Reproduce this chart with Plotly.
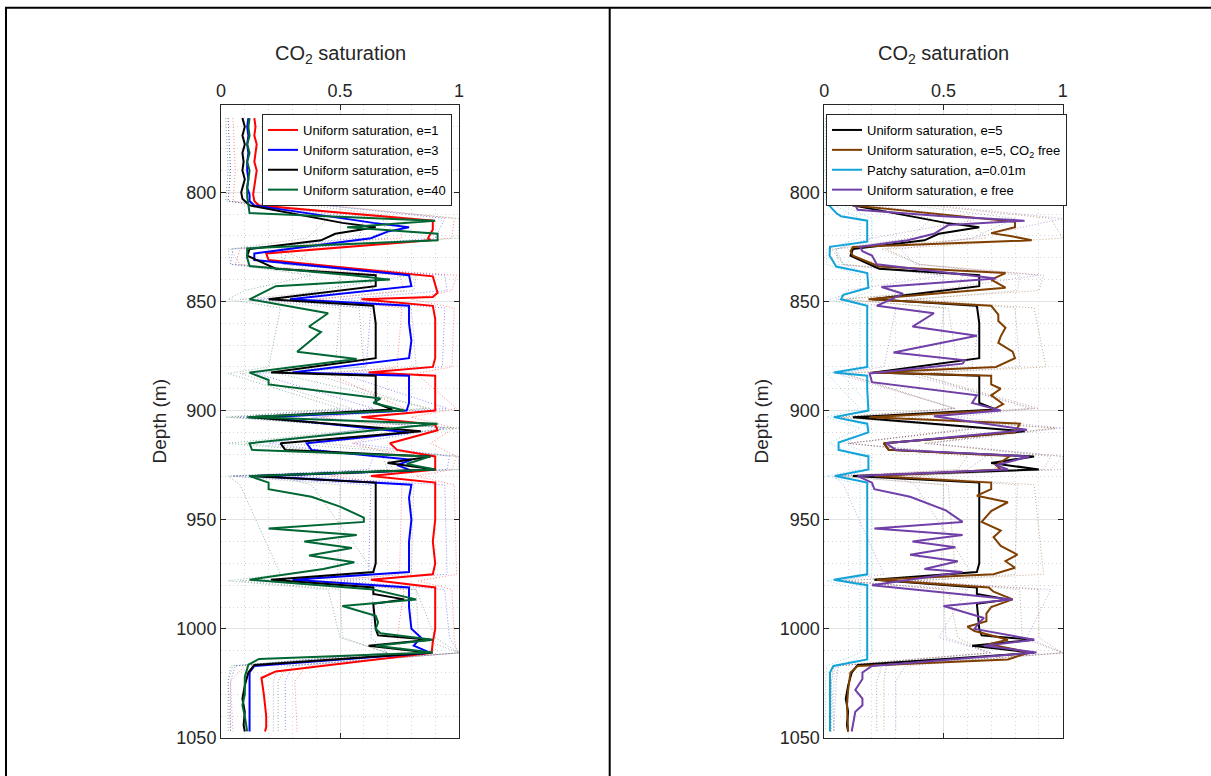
import plotly.graph_objects as go

# ---------------- saturation logs (depth in m, CO2 saturation) ----------------
# Uniform saturation, e=1
depth_e1 = [766, 770, 774, 778, 782, 786, 790, 794, 798, 801, 804, 806, 813, 817, 821, 822,
            828, 831, 838.5, 842, 846, 848, 849, 852, 858, 864, 870, 876, 880, 882.5, 884,
            890, 896, 900, 903, 906.5, 909, 915, 918, 921, 927, 930, 933, 940, 950, 960,
            970, 975, 977.5, 981, 990, 1000, 1006, 1011, 1019.5, 1022.5, 1030, 1040, 1045, 1047]
sat_e1 = [0.14, 0.145, 0.14, 0.15, 0.145, 0.14, 0.15, 0.145, 0.14, 0.135, 0.14, 0.16, 0.89, 0.89, 0.87, 0.88,
          0.19, 0.2, 0.89, 0.9, 0.91, 0.89, 0.59, 0.89, 0.9, 0.9, 0.9, 0.9, 0.89, 0.62, 0.9,
          0.9, 0.9, 0.9, 0.59, 0.9, 0.91, 0.71, 0.74, 0.9, 0.9, 0.63, 0.9, 0.9, 0.9, 0.89,
          0.9, 0.89, 0.63, 0.9, 0.9, 0.9, 0.89, 0.885, 0.23, 0.17, 0.18, 0.19, 0.19, 0.185]

# Uniform saturation, e=3
depth_e3 = [766, 770, 774, 778, 782, 786, 790, 794, 798, 801, 804, 806, 814, 816, 818, 821,
            828, 831, 838, 843, 849, 852, 860, 868, 876, 882.5, 884, 896.5, 900, 903, 910,
            915, 918, 922.5, 925, 927.5, 930, 934, 940, 950, 960, 970, 974, 977.5, 981, 990,
            1000, 1004, 1007.7, 1011, 1017, 1020, 1025, 1035, 1047]
sat_e3 = [0.115, 0.11, 0.115, 0.11, 0.115, 0.11, 0.11, 0.115, 0.11, 0.12, 0.12, 0.14, 0.64, 0.79, 0.7, 0.63,
          0.14, 0.14, 0.79, 0.8, 0.29, 0.79, 0.79, 0.8, 0.79, 0.3, 0.79, 0.79, 0.78, 0.18, 0.79,
          0.36, 0.38, 0.8, 0.74, 0.8, 0.15, 0.8, 0.79, 0.8, 0.79, 0.79, 0.79, 0.3, 0.79, 0.79,
          0.8, 0.84, 0.81, 0.88, 0.14, 0.12, 0.12, 0.12, 0.12]

# Uniform saturation, e=5
depth_e5 = [766, 770, 774, 778, 782, 786, 790, 794, 798, 800, 803, 806, 814, 816, 819, 822,
            826, 829, 835, 838, 843, 849, 852, 860, 870, 876, 882.5, 884, 890, 896.5, 899.5,
            903, 909.5, 915, 918, 921, 924, 927, 930, 933, 940, 950, 960, 970, 974, 977.5,
            981, 984, 986.5, 988.5, 1000, 1003, 1005, 1007.7, 1011, 1016.5, 1020, 1026, 1032,
            1038, 1044, 1047]
sat_e5 = [0.09, 0.1, 0.09, 0.1, 0.09, 0.095, 0.09, 0.1, 0.09, 0.085, 0.09, 0.12, 0.51, 0.65, 0.48, 0.42,
          0.12, 0.11, 0.23, 0.65, 0.65, 0.2, 0.64, 0.65, 0.65, 0.65, 0.21, 0.65, 0.65, 0.65, 0.72,
          0.12, 0.84, 0.25, 0.27, 0.88, 0.7, 0.9, 0.12, 0.65, 0.65, 0.65, 0.65, 0.65, 0.64, 0.21,
          0.64, 0.64, 0.77, 0.64, 0.65, 0.66, 0.88, 0.62, 0.88, 0.14, 0.115, 0.1, 0.09,
          0.1, 0.095, 0.1]

# Uniform saturation, e=40
depth_e40 = [766, 770, 774, 778, 782, 786, 790, 794, 798, 802, 806, 809.5, 813, 816, 819, 822,
             825.7, 830, 833.8, 838, 840, 843, 849, 855.4, 861.5, 864, 873, 876.4, 882.6, 886,
             888, 892, 894.5, 896.5, 900, 903, 906, 915, 918, 921, 924.5, 927, 930, 933, 936,
             939.5, 944, 949, 951, 954, 957, 960, 963, 966.4, 969.5, 972.6, 977.5, 982, 986.5,
             989.5, 994, 997, 1000, 1002, 1005, 1007.7, 1010.8, 1013.8, 1016.4, 1022, 1030,
             1035, 1040, 1047]
sat_e40 = [0.12, 0.115, 0.12, 0.11, 0.12, 0.11, 0.12, 0.115, 0.11, 0.11, 0.115, 0.12, 0.9, 0.53, 0.91, 0.91,
           0.11, 0.11, 0.12, 0.55, 0.71, 0.23, 0.12, 0.45, 0.37, 0.42, 0.32, 0.57, 0.12, 0.2,
           0.2, 0.48, 0.67, 0.64, 0.77, 0.11, 0.91, 0.12, 0.13, 0.88, 0.78, 0.9, 0.12, 0.2, 0.2,
           0.38, 0.5, 0.6, 0.6, 0.2, 0.57, 0.35, 0.55, 0.37, 0.56, 0.43, 0.12, 0.64, 0.82,
           0.51, 0.65, 0.66, 0.65, 0.67, 0.89, 0.65, 0.89, 0.16, 0.115, 0.1, 0.1,
           0.09, 0.1, 0.11]

# Uniform saturation, e=5, CO2 free
depth_co2free = [766, 780, 795, 800, 803, 806, 813.5, 816, 818.7, 820, 822, 825, 827, 829, 834,
                 837, 840, 843.7, 849, 852, 856, 859, 862, 866, 869, 873, 876, 880, 882.6, 884,
                 888, 890, 893, 897, 900, 903, 906, 910, 915, 918, 920.8, 925, 927, 930, 933,
                 936, 939, 942, 946, 951, 955, 958, 962, 966, 969, 972, 975, 977.5, 981, 983,
                 986.5, 990, 993, 996.5, 999, 1001, 1005, 1007, 1010.8, 1014, 1017, 1020, 1028,
                 1035, 1047]
sat_co2free = [0.09, 0.1, 0.09, 0.08, 0.1, 0.12, 0.8, 0.8, 0.7, 0.78, 0.87, 0.12, 0.11, 0.12, 0.23,
               0.76, 0.7, 0.76, 0.185, 0.7, 0.73, 0.73, 0.76, 0.74, 0.73, 0.79, 0.8, 0.72, 0.2, 0.7,
               0.7, 0.74, 0.7, 0.75, 0.7, 0.19, 0.82, 0.8, 0.25, 0.27, 0.78, 0.72, 0.74, 0.21, 0.7,
               0.7, 0.64, 0.77, 0.7, 0.66, 0.74, 0.71, 0.74, 0.81, 0.76, 0.8, 0.71, 0.22, 0.69, 0.71,
               0.79, 0.7, 0.68, 0.68, 0.6, 0.63, 0.77, 0.69, 0.86, 0.77, 0.14, 0.11, 0.1,
               0.095, 0.1]

# Patchy saturation, a=0.01m
depth_patchy = [766, 775, 785, 795, 800, 806, 809.5, 811, 813, 822.6, 825, 829, 834, 837, 843.7,
                847, 849, 852, 860, 870, 880, 882.6, 884, 890, 900, 903, 906, 910, 914.6, 918,
                921, 927, 930, 933, 940, 950, 960, 970, 975, 977.5, 980, 990, 1000, 1010, 1014,
                1017, 1020, 1030, 1047]
sat_patchy = [0.02, 0.015, 0.015, 0.018, 0.02, 0.02, 0.05, 0.07, 0.18, 0.18, 0.024, 0.022, 0.05, 0.18, 0.185,
              0.08, 0.07, 0.18, 0.18, 0.18, 0.18, 0.04, 0.18, 0.18, 0.185, 0.04, 0.18, 0.185, 0.06, 0.06,
              0.185, 0.185, 0.045, 0.18, 0.18, 0.18, 0.18, 0.18, 0.18, 0.04, 0.18, 0.18, 0.18, 0.18, 0.18,
              0.038, 0.024, 0.024, 0.024]

# Uniform saturation, e free
depth_efree = [766, 800, 804, 808, 811, 813, 815, 819, 822, 825, 827, 829, 833, 839.5, 843.4,
               846.5, 852, 855.4, 861.5, 865.7, 873.4, 877, 878.5, 883, 887, 893, 896.5, 900,
               902.6, 908.8, 915, 918, 921, 925, 927, 930, 933, 936, 939.5, 945.7, 951, 954, 957,
               960, 962.6, 966, 969, 972.6, 974, 980, 986.5, 989.5, 995, 997, 1000, 1005, 1007.7,
               1010.8, 1017, 1020, 1023, 1028, 1032, 1035, 1038, 1047]
sat_efree = [0.12, 0.115, 0.12, 0.14, 0.5, 0.84, 0.52, 0.46, 0.35, 0.15, 0.16, 0.2, 0.22, 0.72, 0.24,
             0.33, 0.22, 0.46, 0.37, 0.64, 0.29, 0.59, 0.58, 0.19, 0.2, 0.64, 0.62, 0.74,
             0.46, 0.85, 0.26, 0.3, 0.86, 0.72, 0.77, 0.14, 0.2, 0.21, 0.36, 0.51, 0.58, 0.21, 0.58,
             0.37, 0.55, 0.36, 0.56, 0.42, 0.58, 0.2, 0.79, 0.5, 0.67, 0.65, 0.63, 0.88, 0.67,
             0.89, 0.2, 0.16, 0.16, 0.13, 0.16, 0.16, 0.13, 0.115]

# ---------------- uncertainty envelopes (dotted) on a coarse depth grid ----------------
depth_band = [766, 790, 804, 812, 821, 826, 833, 838, 845, 849, 853, 880, 883, 899, 903, 908,
              915, 921, 927, 930, 934, 975, 978, 982, 1004, 1011, 1017, 1024, 1047]
lo_e1 = [0.05, 0.06, 0.05, 0.74, 0.76, 0.08, 0.06, 0.75, 0.77, 0.41, 0.76, 0.74, 0.45, 0.77, 0.42, 0.75,
         0.55, 0.77, 0.74, 0.46, 0.76, 0.75, 0.46, 0.77, 0.74, 0.76, 0.1, 0.04, 0.05]
hi_e1 = [0.3, 0.28, 0.3, 0.98, 0.97, 0.37, 0.32, 0.99, 0.97, 0.8, 0.98, 0.97, 0.82, 0.99, 0.8, 0.98,
         0.88, 0.99, 0.97, 0.82, 0.98, 0.99, 0.83, 0.97, 0.98, 0.99, 0.36, 0.31, 0.32]
lo_e3 = [0.03, 0.04, 0.03, 0.6, 0.58, 0.05, 0.04, 0.62, 0.64, 0.15, 0.63, 0.61, 0.15, 0.64, 0.07, 0.62,
         0.2, 0.64, 0.62, 0.05, 0.63, 0.62, 0.15, 0.64, 0.63, 0.7, 0.06, 0.04, 0.04]
hi_e3 = [0.26, 0.25, 0.27, 0.94, 0.9, 0.28, 0.26, 0.94, 0.95, 0.5, 0.94, 0.93, 0.5, 0.95, 0.38, 0.94,
         0.56, 0.96, 0.95, 0.3, 0.94, 0.95, 0.5, 0.94, 0.96, 1.0, 0.3, 0.27, 0.27]
lo_e5 = [0.03, 0.04, 0.03, 0.45, 0.36, 0.04, 0.08, 0.5, 0.49, 0.08, 0.5, 0.48, 0.08, 0.55, 0.04, 0.66,
         0.1, 0.7, 0.72, 0.04, 0.5, 0.49, 0.08, 0.5, 0.51, 0.7, 0.05, 0.03, 0.04]
hi_e5 = [0.22, 0.21, 0.23, 0.8, 0.62, 0.24, 0.4, 0.82, 0.81, 0.38, 0.8, 0.82, 0.38, 0.86, 0.26, 0.97,
         0.42, 1.0, 1.0, 0.26, 0.81, 0.8, 0.38, 0.82, 0.83, 1.0, 0.24, 0.22, 0.22]
lo_e40 = [0.02, 0.03, 0.02, 0.68, 0.7, 0.03, 0.04, 0.38, 0.1, 0.03, 0.25, 0.2, 0.03, 0.5, 0.02, 0.66,
          0.03, 0.68, 0.7, 0.03, 0.08, 0.25, 0.03, 0.45, 0.5, 0.7, 0.04, 0.03, 0.03]
hi_e40 = [0.24, 0.25, 0.24, 1.0, 1.0, 0.25, 0.26, 0.8, 0.4, 0.25, 0.58, 0.6, 0.24, 0.88, 0.24, 1.0,
          0.26, 1.0, 1.0, 0.24, 0.38, 0.65, 0.25, 0.82, 0.9, 1.0, 0.28, 0.24, 0.24]
lo_co2free = [0.03, 0.03, 0.04, 0.6, 0.68, 0.03, 0.08, 0.58, 0.56, 0.07, 0.52, 0.56, 0.08, 0.54, 0.07, 0.62,
              0.1, 0.6, 0.56, 0.07, 0.52, 0.55, 0.08, 0.52, 0.56, 0.68, 0.04, 0.03, 0.03]
hi_co2free = [0.25, 0.24, 0.26, 0.95, 1.0, 0.26, 0.4, 0.92, 0.9, 0.36, 0.88, 0.93, 0.38, 0.9, 0.35, 0.97,
              0.42, 0.95, 0.92, 0.36, 0.88, 0.92, 0.38, 0.9, 0.9, 1.0, 0.26, 0.25, 0.25]
lo_patchy = [0.005, 0.005, 0.006, 0.15, 0.15, 0.008, 0.01, 0.15, 0.15, 0.02, 0.15, 0.15, 0.01, 0.15, 0.01, 0.15,
             0.02, 0.15, 0.15, 0.01, 0.15, 0.15, 0.01, 0.15, 0.15, 0.15, 0.01, 0.005, 0.005]
hi_patchy = [0.04, 0.035, 0.04, 0.2, 0.2, 0.05, 0.08, 0.2, 0.2, 0.1, 0.2, 0.2, 0.07, 0.2, 0.07, 0.2,
             0.09, 0.2, 0.2, 0.07, 0.2, 0.2, 0.07, 0.2, 0.2, 0.2, 0.06, 0.04, 0.04]
lo_efree = [0.04, 0.05, 0.04, 0.66, 0.2, 0.05, 0.06, 0.5, 0.1, 0.05, 0.3, 0.25, 0.05, 0.55, 0.2, 0.66,
            0.1, 0.68, 0.6, 0.04, 0.08, 0.25, 0.05, 0.6, 0.48, 0.7, 0.06, 0.05, 0.04]
hi_efree = [0.3, 0.28, 0.3, 1.0, 0.62, 0.32, 0.38, 0.9, 0.45, 0.34, 0.66, 0.62, 0.34, 0.88, 0.55, 1.0,
            0.45, 1.0, 0.95, 0.3, 0.38, 0.62, 0.35, 0.95, 0.85, 1.0, 0.34, 0.3, 0.3]

# ---------------- styling ----------------
FONT = "Liberation Sans, Arial, Helvetica, sans-serif"
AX_COLOR = "#262626"
RED, BLUE, BLACK, GREEN = "#FF0000", "#0000FF", "#000000", "#006633"
BROWN, CYAN, PURPLE = "#7F3F00", "#12A3D8", "#7040A8"

# nominal page size used to place elements in paper coordinates
W, H = 1211, 776
LEFT_X = (221, 459)
RIGHT_X = (824.3, 1062.7)
Y_BOX = (105, 738)


def px_x(p):
    return p / W


def px_y(p):
    return 1 - p / H


fig = go.Figure()


def add_band(depths, lo, hi, color, xa, ya, alpha=0.45):
    for vals in (lo, hi):
        fig.add_trace(go.Scatter(
            x=vals, y=depths, mode="lines", xaxis=xa, yaxis=ya,
            line=dict(color=color, width=1, dash="1px,2px"), opacity=alpha,
            showlegend=False, hoverinfo="skip"))


def add_line(depths, vals, color, name, xa, ya, legend):
    fig.add_trace(go.Scatter(
        x=vals, y=depths, mode="lines", name=name, xaxis=xa, yaxis=ya,
        line=dict(color=color, width=2), legend=legend))


# left panel
add_band(depth_band, lo_e1, hi_e1, RED, "x", "y")
add_band(depth_band, lo_e3, hi_e3, BLUE, "x", "y")
add_band(depth_band, lo_e5, hi_e5, BLACK, "x", "y", 0.3)
add_band(depth_band, lo_e40, hi_e40, GREEN, "x", "y")
add_line(depth_e1, sat_e1, RED, "Uniform saturation, e=1", "x", "y", "legend")
add_line(depth_e3, sat_e3, BLUE, "Uniform saturation, e=3", "x", "y", "legend")
add_line(depth_e5, sat_e5, BLACK, "Uniform saturation, e=5", "x", "y", "legend")
add_line(depth_e40, sat_e40, GREEN, "Uniform saturation, e=40", "x", "y", "legend")

# right panel
add_band(depth_band, lo_e5, hi_e5, BLACK, "x2", "y2", 0.3)
add_band(depth_band, lo_co2free, hi_co2free, BROWN, "x2", "y2")
add_band(depth_band, lo_patchy, hi_patchy, CYAN, "x2", "y2")
add_band(depth_band, lo_efree, hi_efree, PURPLE, "x2", "y2")
add_line(depth_e5, sat_e5, BLACK, "Uniform saturation, e=5", "x2", "y2", "legend2")
add_line(depth_co2free, sat_co2free, BROWN, "Uniform saturation, e=5, CO<sub>2</sub> free", "x2", "y2", "legend2")
add_line(depth_patchy, sat_patchy, CYAN, "Patchy saturation, a=0.01m", "x2", "y2", "legend2")
add_line(depth_efree, sat_efree, PURPLE, "Uniform saturation, e free", "x2", "y2", "legend2")

minor_grid = dict(showgrid=True, gridcolor="#d6d6d6", griddash="1px,3px", gridwidth=1, ticks="")


def xaxis_style(box, anchor):
    return dict(
        domain=[px_x(box[0]), px_x(box[1])], anchor=anchor, side="top",
        range=[0, 1], tick0=0, dtick=0.5, showgrid=True, gridcolor="#e3e3e3", gridwidth=1,
        minor=dict(dtick=0.1, **minor_grid), zeroline=False, automargin=False,
        showline=True, linecolor=AX_COLOR, linewidth=1, mirror="ticks",
        ticks="inside", ticklen=5, tickcolor=AX_COLOR,
        tickfont=dict(family=FONT, size=18, color=AX_COLOR))


def yaxis_style(anchor):
    return dict(
        domain=[px_y(Y_BOX[1]), px_y(Y_BOX[0])], anchor=anchor,
        range=[1050, 760], tick0=0, dtick=50, showgrid=True, gridcolor="#e3e3e3", gridwidth=1,
        minor=dict(dtick=10, **minor_grid), zeroline=False, automargin=False,
        showline=True, linecolor=AX_COLOR, linewidth=1, mirror="ticks",
        ticks="inside", ticklen=5, tickcolor=AX_COLOR,
        tickfont=dict(family=FONT, size=18, color=AX_COLOR))


legend_common = dict(
    bgcolor="white", bordercolor=AX_COLOR, borderwidth=1,
    font=dict(family=FONT, size=13, color="black"),
    itemwidth=30, tracegroupgap=0, yanchor="top")

annotations = []
for box in (LEFT_X, RIGHT_X):
    cx = (box[0] + box[1]) / 2
    annotations.append(dict(
        text="CO<sub>2</sub> saturation", x=px_x(cx), y=px_y(55), xref="paper", yref="paper",
        xanchor="center", yanchor="middle", showarrow=False,
        font=dict(family=FONT, size=20, color=AX_COLOR)))
for xpix in (159, 761):
    annotations.append(dict(
        text="Depth (m)", x=px_x(xpix), y=px_y((Y_BOX[0] + Y_BOX[1]) / 2), xref="paper", yref="paper",
        xanchor="center", yanchor="middle", textangle=-90, showarrow=False,
        font=dict(family=FONT, size=19, color=AX_COLOR)))

# outer frame of the two-panel figure
frame = dict(type="line", xref="paper", yref="paper", line=dict(color="black", width=2))
shapes = [
    dict(frame, x0=px_x(6), x1=px_x(6), y0=px_y(7.7), y1=0),
    dict(frame, x0=px_x(5), x1=1, y0=px_y(7.7), y1=px_y(7.7)),
    dict(frame, x0=px_x(609.7), x1=px_x(609.7), y0=px_y(7.7), y1=0),
]

fig.update_layout(
    autosize=True, margin=dict(l=0, r=0, t=0, b=0, autoexpand=False),
    paper_bgcolor="white", plot_bgcolor="white",
    xaxis=xaxis_style(LEFT_X, "y"), yaxis=yaxis_style("x"),
    xaxis2=xaxis_style(RIGHT_X, "y2"), yaxis2=yaxis_style("x2"),
    legend=dict(legend_common, x=px_x(452), xanchor="right", y=px_y(114)),
    legend2=dict(legend_common, x=px_x(826), xanchor="left", y=px_y(114)),
    annotations=annotations, shapes=shapes, showlegend=True,
    font=dict(family=FONT),
)

fig.write_html("out.html", default_width="100%", default_height="100vh")
